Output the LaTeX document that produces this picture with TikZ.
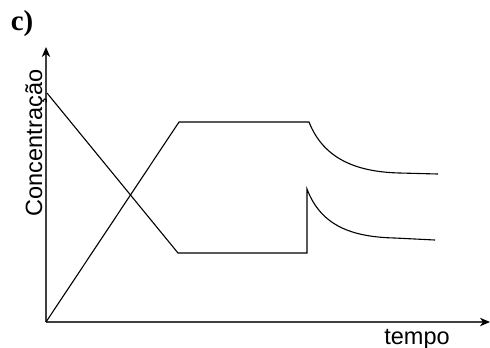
\documentclass[tikz,border=0pt]{standalone}
\usepackage{fontspec}
\setmainfont{Liberation Serif}
\setsansfont{Liberation Sans}
\usetikzlibrary{arrows.meta}
\tikzset{
  axis/.style={line width=0.6bp, draw=black!75, -{Stealth[length=5bp,width=4.2bp,inset=1.5bp,black]}},
  curve/.style={line width=0.55bp, draw=black},
  lbl/.style={font=\sffamily\fontsize{11.8}{14}\selectfont, inner sep=0pt},
}
\begin{document}
\begin{tikzpicture}[x=0.5bp,y=-0.5bp]
\useasboundingbox (0,0) rectangle (490,347);
% axes
\coordinate (O) at (46,322);
\coordinate (Ytip) at (46,47);
\coordinate (Xtip) at (490,322);
\draw[axis] (O) -- (Ytip);
\draw[axis] (O) -- (Xtip);
% labels
\node[font=\rmfamily\bfseries\fontsize{14.5}{17}\selectfont, inner sep=0pt, anchor=base] (lc) at (22,30.5) {c)};
\node[lbl, rotate=90, anchor=base] (ylab) at (42,143) {Concentração};
\node[lbl, anchor=base] (xlab) at (417,344) {tempo};
% descending curve
\coordinate (a0) at (47,93);
\coordinate (a1) at (178,253);
\coordinate (a2) at (307,253);
\coordinate (a3) at (307,189);
\coordinate (a4) at (395,238);
\coordinate (a5) at (435,240);
\draw[curve] (a0) -- (a1) -- (a2) -- (a3)
  .. controls (321,226) and (352,237) .. (a4) -- (a5);
% rising curve
\coordinate (b0) at (O);
\coordinate (b1) at (179,122);
\coordinate (b2) at (309,122);
\coordinate (b3) at (400,173);
\coordinate (b4) at (438,174);
\draw[curve] (b0) -- (b1) -- (b2)
  .. controls (324,160) and (358,172) .. (b3) -- (b4);
\end{tikzpicture}
\end{document}
